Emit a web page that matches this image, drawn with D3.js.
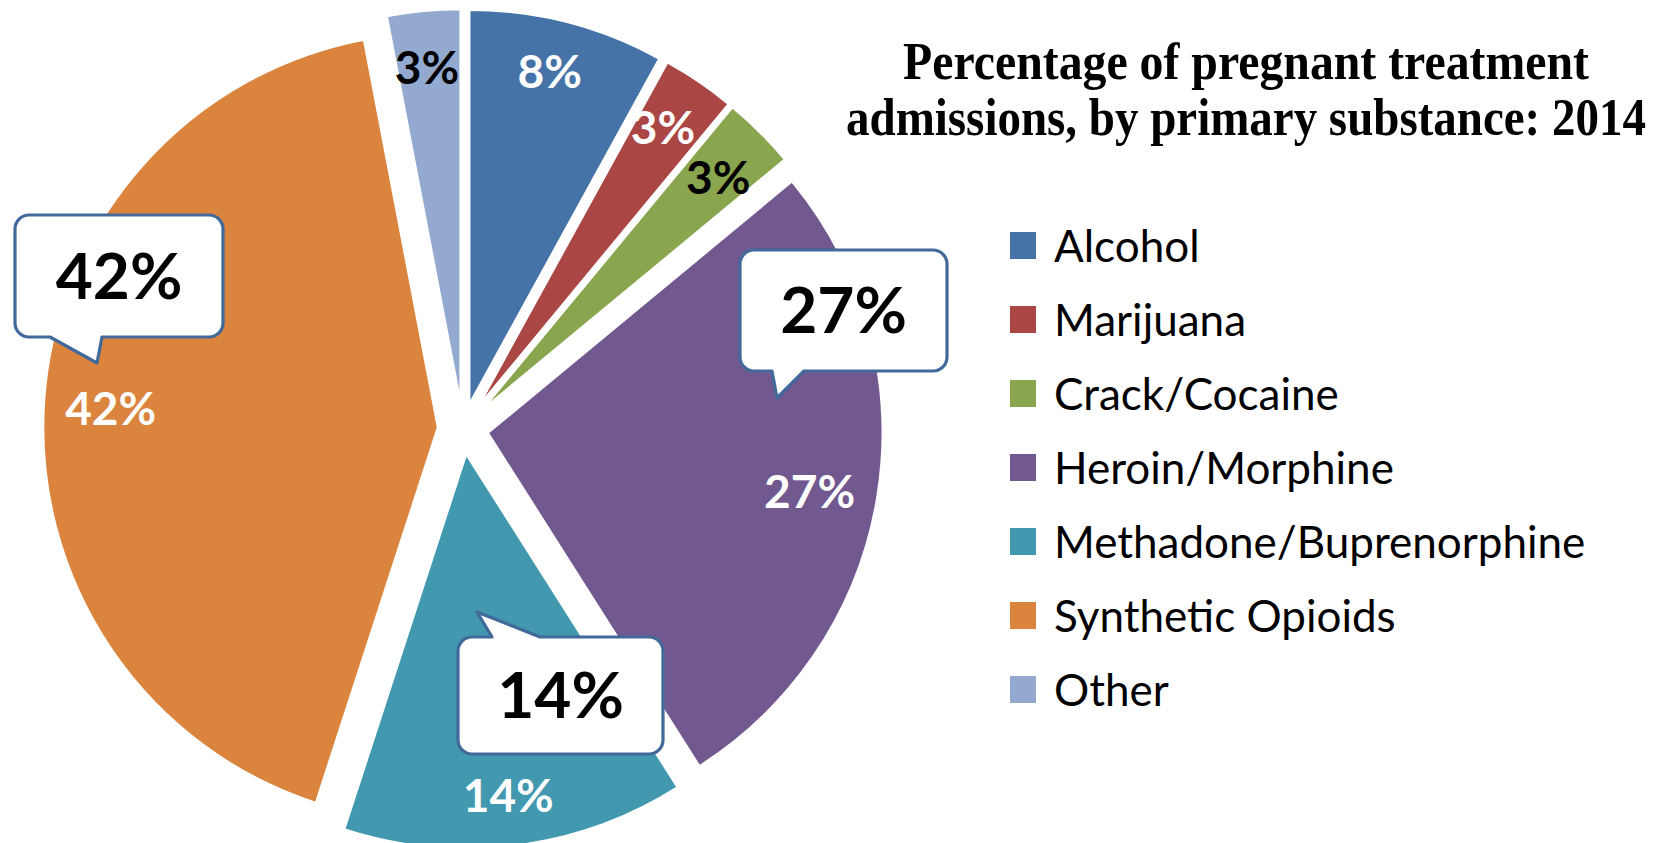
<!DOCTYPE html>
<html>
<head>
<meta charset="utf-8">
<script src="https://cdn.jsdelivr.net/npm/d3@7"></script>
<style>
  html, body { margin: 0; padding: 0; background: #ffffff; }
  svg { display: block; }
</style>
</head>
<body>
<svg id="chart" width="1670" height="843"></svg>
<script>
// Primary substance categories, in slice order (clockwise from 12 o'clock)
const categories = ["Alcohol", "Marijuana", "Crack/Cocaine", "Heroin/Morphine",
                    "Methadone/Buprenorphine", "Synthetic Opioids", "Other"];
// Share of pregnant treatment admissions, percent
const percents = [8, 3, 3, 27, 14, 42, 3];
const sliceColors = ["#4572A7", "#AA4643", "#89A54E", "#71588F", "#4198AF", "#DB843D", "#93A9CF"];
const labelColors = ["#ffffff", "#ffffff", "#000000", "#ffffff", "#ffffff", "#ffffff", "#000000"];
// Categories that get a highlighted callout bubble
const calloutCategories = ["Synthetic Opioids", "Heroin/Morphine", "Methadone/Buprenorphine"];
const titleLines = ["Percentage of pregnant treatment", "admissions, by primary substance: 2014"];

const svg = d3.select("#chart");

// Pie geometry
const cx = 463, cy = 429, R = 395, EXPLODE = 25, LABEL_R = 336;

const data = categories.map((c, i) => ({ name: c, value: percents[i], i }));
const color = d3.scaleOrdinal().domain(categories).range(sliceColors);

const pie = d3.pie().sort(null).value(d => d.value).startAngle(0).endAngle(2 * Math.PI);
const arcs = pie(data);
const arc = d3.arc().innerRadius(0).outerRadius(R);

const mid = a => (a.startAngle + a.endAngle) / 2;
const offset = a => [EXPLODE * Math.sin(mid(a)), -EXPLODE * Math.cos(mid(a))];

// Fine placement of the in-slice value labels (pixels, from the radial anchor)
const labelNudge = {
  "Alcohol": [-3, -8], "Marijuana": [-3, -3], "Crack/Cocaine": [0, 4],
  "Heroin/Morphine": [-10, 6], "Methadone/Buprenorphine": [0, 8],
  "Synthetic Opioids": [8, 2], "Other": [-2, -2]
};

const pieG = svg.append("g").attr("transform", `translate(${cx},${cy})`);

const slices = pieG.selectAll("g.slice").data(arcs).join("g")
  .attr("class", "slice")
  .attr("transform", a => { const o = offset(a); return `translate(${o[0]},${o[1]})`; });

slices.append("path")
  .attr("d", arc)
  .attr("fill", a => color(a.data.name))
  .attr("stroke", "#ffffff")
  .attr("stroke-width", 2.5)
  .attr("stroke-linejoin", "round");

const LABEL_FS = 46;
slices.append("text")
  .attr("x", a => LABEL_R * Math.sin(mid(a)) + labelNudge[a.data.name][0])
  .attr("y", a => -LABEL_R * Math.cos(mid(a)) + labelNudge[a.data.name][1] + LABEL_FS * 0.358)
  .attr("text-anchor", "middle")
  .attr("font-family", "Lato, 'Open Sans', sans-serif")
  .attr("font-weight", 700)
  .attr("font-size", LABEL_FS)
  .attr("fill", a => labelColors[a.data.i])
  .text(a => a.data.value + "%");

// Callout bubbles: box placement and tail (relative to box top-left)
const calloutLayout = {
  "Synthetic Opioids":       { x: 15,  y: 215, w: 208, h: 122, side: "bottom", b1: 35, b2: 87, tip: [82, 148] },
  "Heroin/Morphine":         { x: 740, y: 250, w: 207, h: 121, side: "bottom", b1: 32, b2: 64, tip: [37, 148] },
  "Methadone/Buprenorphine": { x: 458, y: 637, w: 205, h: 117, side: "top",    b1: 34, b2: 82, tip: [19, -25] }
};

function calloutPath(L) {
  const { w, h } = L, r = 14;
  const p = d3.path();
  p.moveTo(r, 0);
  if (L.side === "top") {
    p.lineTo(L.b1, 0); p.lineTo(L.tip[0], L.tip[1]); p.lineTo(L.b2, 0);
  }
  p.lineTo(w - r, 0);
  p.arcTo(w, 0, w, r, r);
  p.lineTo(w, h - r);
  p.arcTo(w, h, w - r, h, r);
  if (L.side === "bottom") {
    p.lineTo(L.b2, h); p.lineTo(L.tip[0], L.tip[1]); p.lineTo(L.b1, h);
  }
  p.lineTo(r, h);
  p.arcTo(0, h, 0, h - r, r);
  p.lineTo(0, r);
  p.arcTo(0, 0, r, 0, r);
  p.closePath();
  return p.toString();
}

const CALLOUT_FS = 64;
const callouts = svg.append("g").selectAll("g.callout")
  .data(calloutCategories.map(c => data.find(d => d.name === c)))
  .join("g")
  .attr("class", "callout")
  .attr("transform", d => `translate(${calloutLayout[d.name].x},${calloutLayout[d.name].y})`);

callouts.append("path")
  .attr("d", d => calloutPath(calloutLayout[d.name]))
  .attr("fill", "#ffffff")
  .attr("stroke", "#41699A")
  .attr("stroke-width", 3.2)
  .attr("stroke-linejoin", "round");

callouts.append("text")
  .attr("x", d => calloutLayout[d.name].w / 2)
  .attr("y", d => calloutLayout[d.name].h / 2 + CALLOUT_FS * 0.358)
  .attr("text-anchor", "middle")
  .attr("font-family", "Lato, 'Open Sans', sans-serif")
  .attr("font-weight", 700)
  .attr("font-size", CALLOUT_FS)
  .attr("fill", "#000000")
  .text(d => d.value + "%");

// Title: two centred lines in a narrow bold serif; each line is squeezed
// horizontally to its set width
const titleX = 1246, titleWidths = [686, 800];
svg.append("g").selectAll("text").data(titleLines).join("text")
  .attr("x", 0)
  .attr("y", 0)
  .attr("text-anchor", "middle")
  .attr("font-family", "'Liberation Serif', 'Times New Roman', serif")
  .attr("font-weight", 700)
  .attr("font-size", 52)
  .attr("fill", "#000000")
  .text(d => d)
  .attr("transform", function (d, i) {
    const natural = this.getComputedTextLength();
    const sx = Math.min(1, titleWidths[i] / natural);
    return `translate(${titleX},${79 + i * 56}) scale(${sx},1)`;
  });

// Legend
const legendY = d3.scalePoint().domain(categories).range([246, 246 + 74 * 6]);
const legend = svg.append("g").selectAll("g.item").data(categories).join("g")
  .attr("class", "item")
  .attr("transform", c => `translate(1010,${legendY(c)})`);

legend.append("rect")
  .attr("x", 0).attr("y", -14)
  .attr("width", 26).attr("height", 27)
  .attr("fill", c => color(c));

legend.append("text")
  .attr("x", 44)
  .attr("y", 16)
  .attr("font-family", "Lato, 'Open Sans', sans-serif")
  .attr("font-size", 44)
  .attr("fill", "#000000")
  .text(c => c);
</script>
</body>
</html>
